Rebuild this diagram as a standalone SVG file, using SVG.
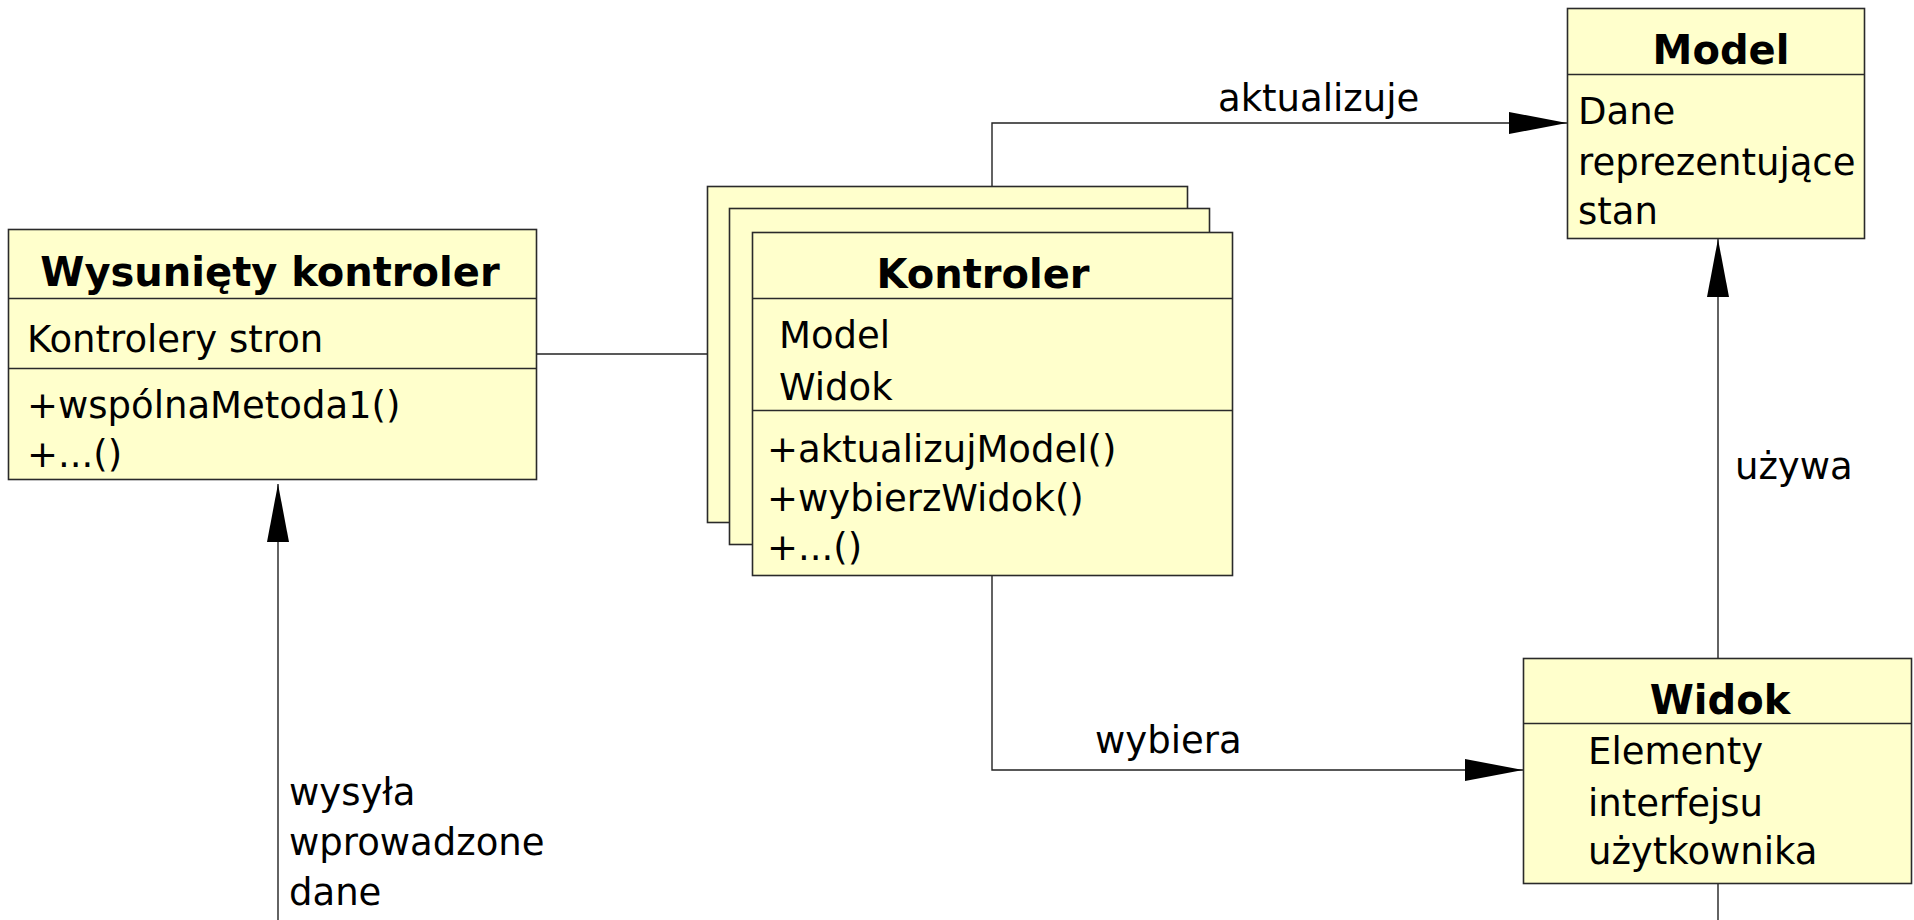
<svg xmlns="http://www.w3.org/2000/svg" width="1914" height="920" viewBox="0 0 1914 920">
<style>
.box{fill:#ffffcc;stroke:#2a2a2a;stroke-width:1.6}
.div{stroke:#2a2a2a;stroke-width:1.6;fill:none}
.t{font-family:"DejaVu Sans","Liberation Sans",sans-serif;font-weight:bold;font-size:40px;fill:#000;text-anchor:middle}
.b{font-family:"DejaVu Sans","Liberation Sans",sans-serif;font-size:37px;fill:#000}
.c{stroke:#222;stroke-width:1.4;fill:none}
</style>
<defs>
<marker id="arr" viewBox="0 0 58 22" refX="58" refY="11" markerWidth="58" markerHeight="22" markerUnits="userSpaceOnUse" orient="auto">
<path d="M0,0 L58,11 L0,22 z" fill="#000"/>
</marker>
</defs>
<rect width="1914" height="920" fill="#fff"/>
<g id="connectors">
<path class="c" d="M537,354 H707"/>
<path class="c" d="M992,186 V123 H1567" marker-end="url(#arr)"/>
<path class="c" d="M992,575 V770 H1523" marker-end="url(#arr)"/>
<path class="c" d="M1718,658 V239" marker-end="url(#arr)"/>
<path class="c" d="M1718,883 V920"/>
<path class="c" d="M278,920 V484" marker-end="url(#arr)"/>
<text class="b" x="1218" y="111">aktualizuje</text>
<text class="b" x="1095" y="753">wybiera</text>
<text class="b" x="1735" y="479">używa</text>
<text class="b" x="289" y="805">wysyła</text>
<text class="b" x="289" y="855">wprowadzone</text>
<text class="b" x="289" y="905">dane</text>
</g>
<g id="wysuniety">
<rect class="box" x="8.5" y="229.5" width="528" height="250"/>
<path class="div" d="M8.5,298.5 H536.5 M8.5,368.5 H536.5"/>
<text class="t" x="270" y="286">Wysunięty kontroler</text>
<text class="b" x="27" y="352">Kontrolery stron</text>
<text class="b" x="27" y="418">+wspólnaMetoda1()</text>
<text class="b" x="27" y="467">+...()</text>
</g>
<g id="kontroler">
<rect class="box" x="707.5" y="186.5" width="480" height="336"/>
<rect class="box" x="729.5" y="208.5" width="480" height="336"/>
<rect class="box" x="752.5" y="232.5" width="480" height="343"/>
<path class="div" d="M752.5,298.5 H1232.5 M752.5,410.5 H1232.5"/>
<text class="t" x="983" y="288">Kontroler</text>
<text class="b" x="779" y="348">Model</text>
<text class="b" x="779" y="400">Widok</text>
<text class="b" x="767" y="462">+aktualizujModel()</text>
<text class="b" x="767" y="511">+wybierzWidok()</text>
<text class="b" x="767" y="560">+...()</text>
</g>
<g id="model">
<rect class="box" x="1567.5" y="8.5" width="297" height="230"/>
<path class="div" d="M1567.5,74.5 H1864.5"/>
<text class="t" x="1721" y="64">Model</text>
<text class="b" x="1578" y="124">Dane</text>
<text class="b" x="1578" y="175">reprezentujące</text>
<text class="b" x="1578" y="224">stan</text>
</g>
<g id="widok">
<rect class="box" x="1523.5" y="658.5" width="388" height="225"/>
<path class="div" d="M1523.5,723.5 H1911.5"/>
<text class="t" x="1720" y="714">Widok</text>
<text class="b" x="1588" y="764">Elementy</text>
<text class="b" x="1588" y="816">interfejsu</text>
<text class="b" x="1588" y="864">użytkownika</text>
</g>
</svg>
